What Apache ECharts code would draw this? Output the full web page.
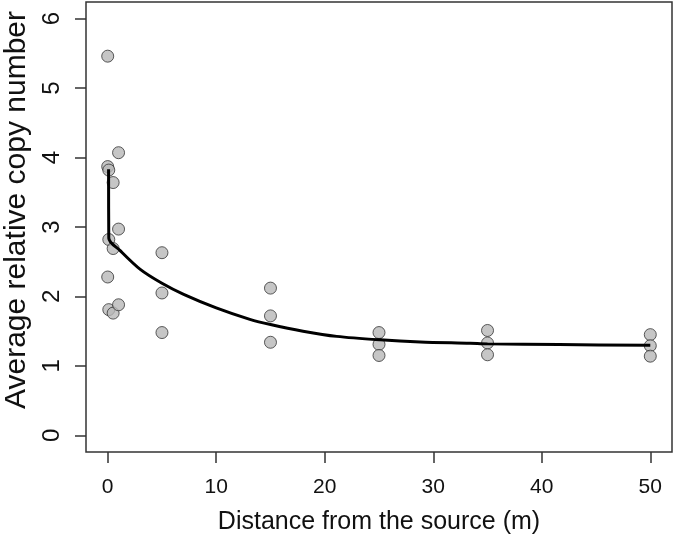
<!DOCTYPE html>
<html>
<head>
<meta charset="utf-8">
<script src="https://cdn.jsdelivr.net/npm/echarts@6/dist/echarts.min.js"></script>
<style>
html,body{margin:0;padding:0;background:#fff;}
#chart{width:675px;height:537px;}
</style>
</head>
<body>
<div id="chart"></div>
<script>
// Observed points: [distance (m), average relative copy number]
const distances = [0, 0, 0, 0.1, 0.1, 0.1, 0.5, 0.5, 0.5, 1, 1, 1, 5, 5, 5, 15, 15, 15, 25, 25, 25, 35, 35, 35, 50, 50, 50];
const copyNumbers = [5.46, 3.87, 2.28, 3.82, 2.82, 1.81, 3.64, 2.69, 1.76, 4.07, 2.97, 1.88, 2.63, 2.05, 1.48, 2.12, 1.72, 1.34, 1.48, 1.31, 1.15, 1.51, 1.33, 1.16, 1.45, 1.29, 1.14];
// Fitted curve
const curveX = [0.08, 0.1, 1.15, 3.0, 5.0, 7.0, 10.0, 13.1, 15.0, 18.0, 21.1, 25.1, 28.8, 33.4, 35.0, 41.6, 50.0];
const curveY = [3.83, 2.84, 2.66, 2.39, 2.19, 2.03, 1.835, 1.67, 1.595, 1.50, 1.425, 1.375, 1.345, 1.326, 1.317, 1.307, 1.297];
const xTicks = [0, 10, 20, 30, 40, 50];
const yTicks = [0, 1, 2, 3, 4, 5, 6];

const points = distances.map((d, i) => [d, copyNumbers[i]]);
const curve = curveX.map((d, i) => [d, curveY[i]]);

const font = 'Liberation Sans, Arial, Helvetica, sans-serif';
const chart = echarts.init(document.getElementById('chart'), null, {renderer: 'canvas'});
chart.setOption({
  animation: false,
  backgroundColor: '#ffffff',
  grid: {left: 86, right: 3, top: 2, bottom: 85, containLabel: false, outerBoundsMode: 'none',
         show: true, borderColor: '#333', borderWidth: 1.5, backgroundColor: 'transparent'},
  xAxis: {
    type: 'value', min: -2, max: 52,
    splitLine: {show: false},
    axisLine: {show: false, onZero: false},
    axisTick: {show: true, inside: false, length: 11, customValues: xTicks, lineStyle: {color: '#333', width: 1.5}},
    axisLabel: {customValues: xTicks, margin: 25, fontSize: 21, color: '#111', fontFamily: font},
    name: 'Distance from the source (m)', nameLocation: 'middle', nameGap: 58,
    nameTextStyle: {fontSize: 25, color: '#111', fontFamily: font}
  },
  yAxis: {
    type: 'value', min: -0.24, max: 6.24,
    splitLine: {show: false},
    axisLine: {show: false, onZero: false},
    axisTick: {show: true, inside: false, length: 11, customValues: yTicks, lineStyle: {color: '#333', width: 1.5}},
    axisLabel: {customValues: yTicks, margin: 22, fontSize: 24, color: '#111', fontFamily: font, rotate: 90},
    name: 'Average relative copy number', nameLocation: 'middle', nameGap: 42, nameRotate: 90,
    nameTextStyle: {fontSize: 30, color: '#111', fontFamily: font, padding: [0, 0, 0, 34]}
  },
  series: [
    {
      type: 'scatter', data: points, symbol: 'circle', symbolSize: 12, z: 2,
      itemStyle: {color: '#b8b8b8', borderColor: '#333', borderWidth: 1}
    },
    {
      type: 'line', data: curve, showSymbol: false, smooth: 0.3, z: 3,
      lineStyle: {color: '#000', width: 3}
    }
  ]
});
</script>
</body>
</html>
